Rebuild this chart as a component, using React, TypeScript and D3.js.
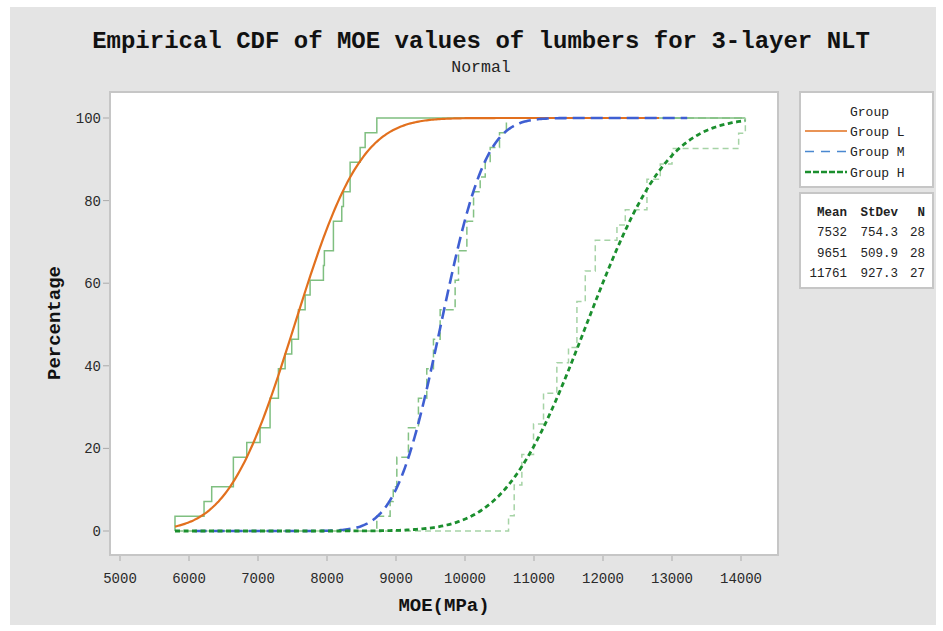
import * as d3 from "d3";

// sorted MOE samples
const groupL = [
  5797, 6218, 6329, 6643, 6643, 6837, 7030, 7175, 7175, 7296, 7296, 7393, 7489,
  7586, 7586, 7683, 7755, 7948, 7962, 8093, 8093, 8214, 8238, 8335, 8335, 8480,
  8553, 8722,
];
const groupM = [
  8722, 8915, 8960, 9012, 9012, 9180, 9180, 9325, 9325, 9446, 9446, 9543, 9543,
  9640, 9640, 9857, 9857, 9906, 9906, 10027, 10027, 10124, 10124, 10220, 10293,
  10365, 10500, 10600,
];
const groupH = [
  10631, 10713, 10713, 10824, 10824, 10993, 10993, 11138, 11138, 11331, 11331,
  11500, 11622, 11622, 11622, 11743, 11743, 11888, 11888, 12202, 12323, 12637,
  12637, 12830, 13000, 13966, 14063,
];

const groupNames = ["Group L", "Group M", "Group H"];
const means = [7532, 9651, 11761];
const stdevs = [754.3, 509.9, 927.3];
const counts = [28, 28, 27];

const xTicks = [5000, 6000, 7000, 8000, 9000, 10000, 11000, 12000, 13000, 14000];
const yTicks = [0, 20, 40, 60, 80, 100];

const FONT = "'Liberation Mono', 'DejaVu Sans Mono', monospace";

const fitStyle = [
  { color: "#e2701e", width: 2.2, dash: null },
  { color: "#3f5fd2", width: 2.6, dash: "12,6" },
  { color: "#1b8f2e", width: 2.8, dash: "5,3.5" },
];
const stepStyle = [
  { color: "#7fbf80", dash: null },
  { color: "#84c184", dash: "8,4" },
  { color: "#a6d3a6", dash: "6,4" },
];
const legendStyle = [
  { color: "#e2701e", width: 1.6, dash: null },
  { color: "#4a88d0", width: 1.6, dash: "9,7" },
  { color: "#1b8f2e", width: 2.4, dash: "6,2" },
];

function erf(x: number) {
  const s = Math.sign(x);
  const a = Math.abs(x);
  const t = 1 / (1 + 0.3275911 * a);
  const y =
    1 -
    ((((1.061405429 * t - 1.453152027) * t + 1.421413741) * t - 0.284496736) * t +
      0.254829592) *
      t *
      Math.exp(-a * a);
  return s * y;
}
const normCdf = (x: number, mu: number, sd: number) =>
  0.5 * (1 + erf((x - mu) / (sd * Math.SQRT2)));

export default function App() {
  const x = d3.scaleLinear().domain([5000, 14000]).range([120, 741]);
  const y = d3.scaleLinear().domain([0, 100]).range([531, 118]);

  const groups = [groupL, groupM, groupH];
  const lo = d3.min(groups.flat()) as number;
  const hi = d3.max(groups.flat()) as number;

  const stepLine = d3
    .line<[number, number]>()
    .x((d) => x(d[0]))
    .y((d) => y(d[1]))
    .curve(d3.curveStepAfter);

  const smooth = d3
    .line<[number, number]>()
    .x((d) => x(d[0]))
    .y((d) => y(d[1]));

  const steps = groups.map((vals) => {
    const n = vals.length;
    const pts: [number, number][] = [[lo, 0]];
    vals.forEach((v, i) => pts.push([v, ((i + 1) / n) * 100]));
    pts.push([hi, 100]);
    return stepLine(pts);
  });

  // fitted normal CDF from each group's mean / stdev
  const fits = means.map((mu, gi) => {
    const sd = stdevs[gi];
    const a = Math.max(lo, mu - 7 * sd);
    const b = Math.min(hi, mu + 7 * sd);
    const pts: [number, number][] = d3
      .range(0, 301)
      .map((k) => {
        const v = a + ((b - a) * k) / 300;
        return [v, normCdf(v, mu, sd) * 100] as [number, number];
      });
    return smooth(pts);
  });

  const frame = { x0: 110, y0: 92, x1: 778, y1: 555 };

  return (
    <svg
      width={943}
      height={631}
      style={{ position: "absolute", left: 0, top: 0, background: "#fff" }}
    >
      <rect x={10} y={7} width={926} height={618} fill="#e4e4e4" />
      <text x={481} y={48} textAnchor="middle" fontFamily={FONT} fontWeight="bold" fontSize={24} fill="#111">
        Empirical CDF of MOE values of lumbers for 3-layer NLT
      </text>
      <text x={481} y={72} textAnchor="middle" fontFamily={FONT} fontSize={16.5} fill="#222">
        Normal
      </text>

      <rect
        x={frame.x0}
        y={frame.y0}
        width={frame.x1 - frame.x0}
        height={frame.y1 - frame.y0}
        fill="#fff"
        stroke="#c6c6c6"
        strokeWidth={2}
      />

      {yTicks.map((t) => (
        <g key={"y" + t}>
          <line x1={103} x2={109} y1={y(t)} y2={y(t)} stroke="#aaa" />
          <text x={101} y={y(t)} dy="0.35em" textAnchor="end" fontFamily={FONT} fontSize={14} fill="#2a2a2a">
            {t}
          </text>
        </g>
      ))}
      {xTicks.map((t) => (
        <g key={"x" + t}>
          <line x1={x(t)} x2={x(t)} y1={556} y2={561} stroke="#aaa" />
          <text x={x(t)} y={583} textAnchor="middle" fontFamily={FONT} fontSize={14} fill="#2a2a2a">
            {t}
          </text>
        </g>
      ))}

      <text
        transform="translate(60,323) rotate(-90)"
        textAnchor="middle"
        fontFamily={FONT}
        fontWeight="bold"
        fontSize={19}
        fill="#111"
      >
        Percentage
      </text>
      <text x={444} y={611} textAnchor="middle" fontFamily={FONT} fontWeight="bold" fontSize={19} fill="#111">
        MOE(MPa)
      </text>

      <g fill="none">
        {steps.map((d, i) => (
          <path
            key={"s" + i}
            d={d ?? ""}
            stroke={stepStyle[i].color}
            strokeWidth={1.5}
            strokeDasharray={stepStyle[i].dash ?? undefined}
          />
        ))}
        {fits.map((d, i) => (
          <path
            key={"f" + i}
            d={d ?? ""}
            stroke={fitStyle[i].color}
            strokeWidth={fitStyle[i].width}
            strokeDasharray={fitStyle[i].dash ?? undefined}
          />
        ))}
      </g>

      {/* legend */}
      <rect x={800} y={92} width={133} height={95} fill="#fff" stroke="#c6c6c6" strokeWidth={2} />
      <text x={850} y={116} fontFamily={FONT} fontSize={13} fill="#222">
        Group
      </text>
      {groupNames.map((g, i) => (
        <g key={g}>
          <line
            x1={805}
            x2={847}
            y1={131 + i * 20.5}
            y2={131 + i * 20.5}
            stroke={legendStyle[i].color}
            strokeWidth={legendStyle[i].width}
            strokeDasharray={legendStyle[i].dash ?? undefined}
          />
          <text x={850} y={131 + i * 20.5} dy="0.35em" fontFamily={FONT} fontSize={13} fill="#222">
            {g}
          </text>
        </g>
      ))}

      <rect x={800} y={193} width={133} height={95} fill="#fff" stroke="#c6c6c6" strokeWidth={2} />
      <g fontFamily={FONT} fontSize={12.5} fill="#222" textAnchor="end">
        <text x={847} y={216} fontWeight="bold">Mean</text>
        <text x={898} y={216} fontWeight="bold">StDev</text>
        <text x={925} y={216} fontWeight="bold">N</text>
        {means.map((m, i) => (
          <g key={"r" + i}>
            <text x={847} y={236 + i * 20.5}>{m}</text>
            <text x={898} y={236 + i * 20.5}>{stdevs[i].toFixed(1)}</text>
            <text x={925} y={236 + i * 20.5}>{counts[i]}</text>
          </g>
        ))}
      </g>
    </svg>
  );
}
